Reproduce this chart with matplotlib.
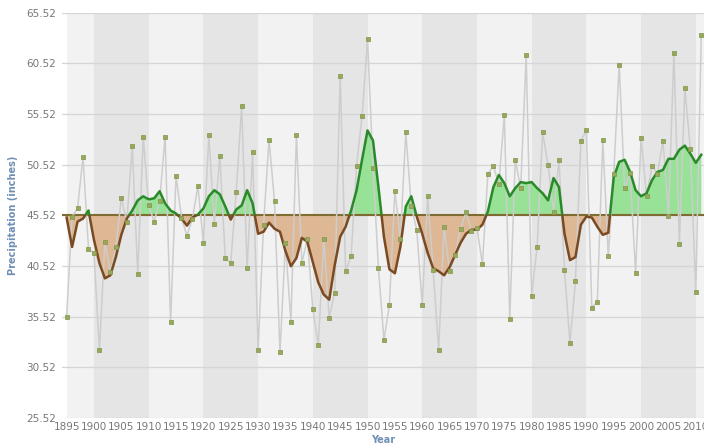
import numpy as np
import matplotlib
matplotlib.use("Agg")
import matplotlib.pyplot as plt
from matplotlib.patches import Rectangle

# annual precipitation (inches)
years = np.arange(1895, 2012)
precip = [
    35.5, 45.4, 46.2, 51.3, 42.2, 41.8, 32.2, 42.9, 39.9, 42.4,   # 1895-1904
    47.2, 44.9, 52.4, 39.7, 53.3, 46.5, 44.9, 46.9, 53.3, 35.0,   # 1905-1914
    49.4, 45.3, 43.5, 45.2, 48.4, 42.8, 53.4, 44.7, 51.4, 41.3,   # 1915-1924
    40.8, 47.8, 56.3, 40.3, 51.8, 32.2, 44.6, 53.0, 46.9, 32.0,   # 1925-1934
    42.8, 35.0, 53.4, 40.8, 43.2, 36.3, 32.7, 43.2, 35.4, 37.9,   # 1935-1944
    59.3, 40.0, 41.5, 50.4, 55.3, 62.9, 50.2, 40.3, 33.2, 36.7,   # 1945-1954
    47.9, 43.2, 53.7, 46.4, 44.1, 36.7, 47.4, 40.1, 32.2, 44.4,   # 1955-1964
    40.0, 41.6, 44.2, 45.8, 44.0, 44.3, 40.7, 49.6, 50.4, 48.6,   # 1965-1974
    55.4, 35.3, 51.0, 48.2, 61.3, 37.6, 42.4, 53.7, 50.5, 45.8,   # 1975-1984
    51.0, 40.1, 32.9, 39.0, 52.9, 53.9, 36.4, 37.0, 53.0, 41.5,   # 1985-1994
    49.6, 60.4, 48.2, 49.7, 39.8, 53.2, 47.4, 50.4, 49.6, 52.9,   # 1995-2004
    45.5, 61.5, 42.7, 58.1, 52.1, 38.0, 63.3,                     # 2005-2011
]

# smoothed trend curve
trend = [
    45.3, 42.4, 44.9, 45.2, 46.0, 43.1, 40.8, 39.3, 39.6, 41.4,
    43.6, 45.2, 46.0, 47.0, 47.4, 47.1, 47.2, 47.9, 46.7, 46.0,
    45.7, 45.2, 44.5, 45.3, 45.6, 46.2, 47.4, 48.0, 47.6, 46.4,
    45.1, 46.1, 46.5, 48.0, 46.7, 43.7, 43.9, 44.8, 44.2, 43.9,
    42.0, 40.5, 41.3, 43.3, 42.9, 40.9, 38.9, 37.7, 37.2, 40.6,
    43.4, 44.4, 46.0, 48.0, 51.0, 53.9, 52.9, 48.3, 43.4, 40.2,
    39.8, 42.4, 46.4, 47.4, 45.4, 43.7, 41.8, 40.3, 40.0, 39.6,
    40.4, 41.6, 42.8, 43.7, 44.1, 44.1, 44.6, 45.9, 48.3, 49.5,
    48.7, 47.4, 48.2, 48.8, 48.7, 48.8, 48.2, 47.7, 47.0, 49.2,
    48.3, 43.7, 41.1, 41.4, 44.6, 45.4, 45.3, 44.4, 43.6, 43.8,
    49.3, 50.8, 51.0, 49.8, 48.0, 47.4, 47.7, 49.0, 49.8, 50.0,
    51.1, 51.1, 52.0, 52.4, 51.6, 50.7, 51.5,
]

baseline = 45.52
ytick_vals = np.arange(25.52, 65.53, 5)
xtick_vals = np.arange(1895, 2011, 5)


def main():
    p = np.array(precip)
    t = np.array(trend)

    fig = plt.figure(figsize=(7.04, 4.45), dpi=100)
    ax = fig.add_axes([0.088, 0.0607, 0.912, 0.9108])

    x0, x1 = 1894.15, 2011.5
    ax.set_xlim(x0, x1)
    ax.set_ylim(25.52, 65.52)
    ax.set_facecolor("white")

    # decade bands
    ax.axvspan(1895, x1, color="#f2f2f2", zorder=0, lw=0)
    for start in range(1900, 2011, 20):
        ax.axvspan(start, min(start + 10, x1), color="#e5e5e5", zorder=0.1, lw=0)

    for v in ytick_vals:
        ax.axhline(v, color="#d5d5d5", lw=0.9, zorder=0.5)

    # area between trend and long-term mean
    ax.fill_between(years, t, baseline, where=t >= baseline, interpolate=True,
                    color="#97e297", lw=0, zorder=1)
    ax.fill_between(years, t, baseline, where=t < baseline, interpolate=True,
                    color="#deb894", lw=0, zorder=1)
    ax.axhline(baseline, color="#7f6c30", lw=1.5, zorder=2)

    ax.plot(years, p, color="#cdcdcd", lw=1.1, zorder=3)

    # trend line: green above mean, brown below
    up = ax.plot(years, t, color="#2a8a2a", lw=1.8, zorder=4)[0]
    dn = ax.plot(years, t, color="#7a4a22", lw=1.8, zorder=4)[0]
    up.set_clip_path(Rectangle((x0, baseline), x1 - x0, 30, transform=ax.transData))
    dn.set_clip_path(Rectangle((x0, 0), x1 - x0, baseline, transform=ax.transData))

    ax.plot(years, p, ls="none", marker="s", ms=3.3, color="#97a95a",
            mec="#7f9447", mew=0.5, zorder=5)

    for s in ax.spines.values():
        s.set_visible(False)
    ax.set_yticks(ytick_vals)
    ax.set_yticklabels([f"{v:.2f}" for v in ytick_vals])
    ax.set_xticks(xtick_vals)
    ax.tick_params(length=0, labelsize=7.5, colors="#787878", pad=4)
    ax.tick_params(axis="x", pad=3)

    ax.set_ylabel("Precipitation (inches)", fontsize=7, fontweight="bold",
                  color="#6f8fb5", labelpad=6)
    ax.set_xlabel("Year", fontsize=7, fontweight="bold", color="#6f8fb5", labelpad=2)

    fig.savefig("out.png", dpi=100)


if __name__ == "__main__":
    main()
